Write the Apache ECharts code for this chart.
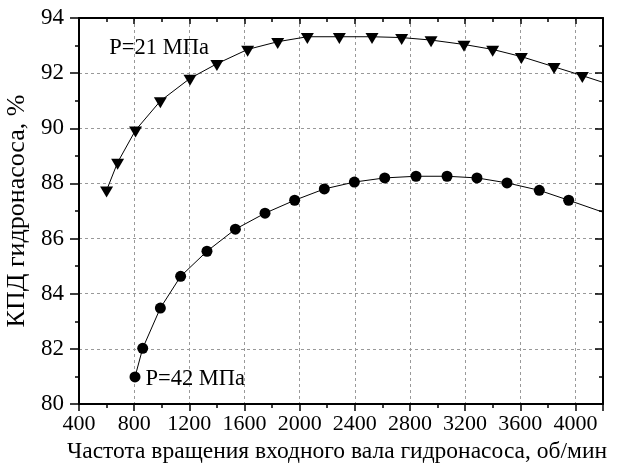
<!DOCTYPE html>
<html>
<head>
<meta charset="utf-8">
<script src="https://cdn.jsdelivr.net/npm/echarts@6/dist/echarts.min.js"></script>
<style>html,body{margin:0;padding:0;background:#fff}#c{width:625px;height:468px}</style>
</head>
<body>
<div id="c"></div>
<script>
// P = 21 MPa (triangles)
const rpm21 = [600, 680, 810, 990, 1205, 1400, 1623, 1841, 2056, 2288, 2525, 2740, 2953, 3192, 3400, 3608, 3845, 4050, 4240];
const eff21 = [87.75, 88.76, 89.93, 90.99, 91.81, 92.34, 92.86, 93.14, 93.32, 93.32, 93.32, 93.29, 93.2, 93.04, 92.86, 92.6, 92.23, 91.91, 91.6];
// P = 42 MPa (circles)
const rpm42 = [806, 862, 990, 1137, 1328, 1534, 1749, 1964, 2179, 2397, 2617, 2844, 3069, 3286, 3504, 3738, 3951, 4215];
const eff42 = [80.98, 82.02, 83.48, 84.63, 85.54, 86.34, 86.92, 87.39, 87.8, 88.05, 88.2, 88.26, 88.26, 88.2, 88.02, 87.75, 87.39, 86.93];
const xTicks = [400, 800, 1200, 1600, 2000, 2400, 2800, 3200, 3600, 4000];
const yTicks = [80, 82, 84, 86, 88, 90, 92, 94];
const label21 = 'P=21 МПа';
const label42 = 'P=42 МПа';
const xTitle = 'Частота вращения входного вала гидронасоса, об/мин';
const yTitle = 'КПД гидронасоса, %';

const FONT = 'Liberation Serif';
const chart = echarts.init(document.getElementById('c'), null, {renderer: 'canvas'});
const axisLine = {show: true, onZero: false, lineStyle: {color: '#000', width: 2}};

chart.setOption({
  animation: false,
  backgroundColor: '#fff',
  textStyle: {fontFamily: FONT, color: '#000'},
  grid: {left: 79, right: 22, top: 18, bottom: 64, containLabel: false, outerBoundsMode: 'none'},
  xAxis: [{
    type: 'value', position: 'bottom', min: 400, max: 4200, interval: 400,
    axisLine: axisLine,
    axisTick: {show: true, inside: false, length: 7, lineStyle: {color: '#000', width: 1.5}},
    minorTick: {show: true, splitNumber: 2, length: 4, lineStyle: {color: '#000', width: 1.5}},
    axisLabel: {margin: 9, fontFamily: FONT, fontSize: 22, color: '#000',
      formatter: v => xTicks.indexOf(v) >= 0 ? String(v) : ''},
    splitLine: {show: true, lineStyle: {color: '#999', type: [3, 3], width: 1}},
    name: xTitle, nameLocation: 'middle', nameGap: 34,
    nameTextStyle: {fontFamily: FONT, fontSize: 23.5, color: '#000', padding: [0, 8, 0, 0]}
  }, {
    type: 'value', position: 'top', min: 400, max: 4200, interval: 400,
    axisLine: axisLine,
    axisTick: {show: true, inside: true, length: 6, lineStyle: {color: '#000', width: 1.5}},
    minorTick: {show: true, splitNumber: 2, length: 4, lineStyle: {color: '#000', width: 1.5}},
    axisLabel: {show: false}, splitLine: {show: false}
  }],
  yAxis: [{
    type: 'value', position: 'left', min: 80, max: 94, interval: 2,
    axisLine: axisLine,
    axisTick: {show: true, inside: false, length: 9, lineStyle: {color: '#000', width: 1.5}},
    minorTick: {show: true, splitNumber: 2, length: 4, lineStyle: {color: '#000', width: 1.5}},
    axisLabel: {margin: 15, fontFamily: FONT, fontSize: 23, color: '#000',
      formatter: v => yTicks.indexOf(v) >= 0 ? String(v) : ''},
    splitLine: {show: true, lineStyle: {color: '#999', type: [3, 3], width: 1}},
    name: yTitle, nameLocation: 'middle', nameGap: 34, nameRotate: 90,
    nameTextStyle: {fontFamily: FONT, fontSize: 26, color: '#000'}
  }, {
    type: 'value', position: 'right', min: 80, max: 94, interval: 2,
    axisLine: axisLine,
    axisTick: {show: true, inside: true, length: 8, lineStyle: {color: '#000', width: 1.5}},
    minorTick: {show: true, splitNumber: 2, length: 4, lineStyle: {color: '#000', width: 1.5}},
    axisLabel: {show: false}, splitLine: {show: false}
  }],
  series: [{
    type: 'line', xAxisIndex: 0, yAxisIndex: 0, clip: true,
    data: rpm21.map((x, i) => [x, eff21[i]]),
    symbol: 'triangle', symbolRotate: 180, symbolSize: [13, 11], symbolOffset: [0, 1.8],
    showAllSymbol: true,
    itemStyle: {color: '#000'}, lineStyle: {color: '#000', width: 1},
    markPoint: {
      symbol: 'circle', symbolSize: 0,
      data: [{coord: [620, 92.9], value: label21}],
      label: {show: true, position: 'right', distance: 0, formatter: label21,
        fontFamily: FONT, fontSize: 22.5, color: '#000'}
    }
  }, {
    type: 'line', xAxisIndex: 0, yAxisIndex: 0, clip: true,
    data: rpm42.map((x, i) => ({value: [x, eff42[i]],
      label: i === 0 ? {show: true, position: 'right', distance: 5, formatter: label42,
        fontFamily: FONT, fontSize: 22.5, color: '#000', offset: [0, 2]} : undefined})),
    symbol: 'circle', symbolSize: 11, showAllSymbol: true,
    itemStyle: {color: '#000'}, lineStyle: {color: '#000', width: 1}
  }]
});
</script>
</body>
</html>
